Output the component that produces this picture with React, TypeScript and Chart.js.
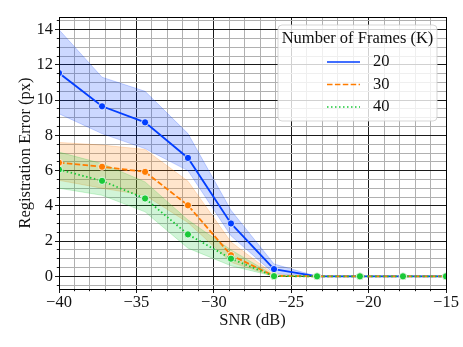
import React, { useEffect, useRef } from "react";
import { Chart, registerables } from "chart.js";

Chart.register(...registerables);

// ---- data ----
const snr = [-40, -37.22, -34.44, -31.67, -28.89, -26.11, -23.33, -20.56, -17.78, -15];
const seriesLabels = ["20", "30", "40"];
const k20Mean = [11.54, 9.65, 8.74, 6.72, 3.0, 0.41, 0.0, 0.0, 0.0, 0.0];
const k20Upper = [14.0, 11.3, 10.5, 8.1, 3.75, 0.7, 0.0, 0.0, 0.0, 0.0];
const k20Lower = [9.23, 8.1, 7.25, 6.0, 2.3, 0.15, 0.0, 0.0, 0.0, 0.0];
const k30Mean = [6.45, 6.22, 5.93, 4.03, 1.2, 0.02, 0.0, 0.0, 0.0, 0.0];
const k30Upper = [7.6, 7.45, 7.2, 5.4, 1.95, 0.1, 0.0, 0.0, 0.0, 0.0];
const k30Lower = [5.45, 5.0, 4.6, 3.05, 0.8, 0.0, 0.0, 0.0, 0.0, 0.0];
const k40Mean = [6.06, 5.42, 4.42, 2.38, 1.0, 0.01, 0.0, 0.0, 0.0, 0.0];
const k40Upper = [7.05, 6.4, 5.36, 3.2, 1.5, 0.05, 0.0, 0.0, 0.0, 0.0];
const k40Lower = [5.0, 4.6, 3.66, 1.6, 0.6, 0.0, 0.0, 0.0, 0.0, 0.0];

const xMajorTicks = [-40, -35, -30, -25, -20, -15];
const xMinorStep = 1;
const yMajorTicks = [0, 2, 4, 6, 8, 10, 12, 14];
const yMinorStep = 0.5;
const xLimits = [-40, -15];
const yLimits = [-0.72, 14.72];

const legendTitle = "Number of Frames (K)";
const xTitle = "SNR (dB)";
const yTitle = "Registration Error (px)";

// ---- styles ----
const FONT = "'Liberation Serif', 'Times New Roman', serif";
const colors = ["#023eff", "#ff7c00", "#1ac938"];
const bandFill = ["rgba(2,62,255,0.2)", "rgba(255,124,0,0.2)", "rgba(26,201,56,0.2)"];
const bandEdge = ["rgba(2,62,255,0.22)", "rgba(255,124,0,0.22)", "rgba(26,201,56,0.22)"];
const dashes: number[][] = [[], [5.5, 2.4], [1.5, 2.5]];

const pts = (ys: number[]) => snr.map((x, i) => ({ x, y: ys[i] }));

const fmt = (v: number) => (v < 0 ? "\u2212" + Math.abs(v) : String(v));

function rangeTicks(lo: number, hi: number, step: number) {
  const out: number[] = [];
  const start = Math.ceil(lo / step);
  const end = Math.floor(hi / step);
  for (let i = start; i <= end; i++) out.push(+(i * step).toFixed(6));
  return out;
}

const alignPx = (p: number) => Math.round(p - 0.5) + 0.5;

const framePlugin = {
  id: "frameAndLegend",
  afterDraw(chart: any) {
    const { ctx, chartArea: a, scales } = chart;
    ctx.save();
    // tick marks
    ctx.strokeStyle = "#000";
    ctx.lineWidth = 0.9;
    scales.x.ticks.forEach((t: any) => {
      const px = alignPx(scales.x.getPixelForValue(t.value));
      const len = xMajorTicks.includes(t.value) ? 4 : 2.2;
      ctx.beginPath();
      ctx.moveTo(px, a.bottom);
      ctx.lineTo(px, a.bottom + len);
      ctx.stroke();
    });
    scales.y.ticks.forEach((t: any) => {
      const py = alignPx(scales.y.getPixelForValue(t.value));
      const len = yMajorTicks.includes(t.value) ? 4 : 2.2;
      ctx.beginPath();
      ctx.moveTo(a.left, py);
      ctx.lineTo(a.left - len, py);
      ctx.stroke();
    });
    // frame
    ctx.lineWidth = 1;
    ctx.strokeStyle = "#000";
    const l = alignPx(a.left), r = alignPx(a.right), tp = alignPx(a.top), b = alignPx(a.bottom);
    ctx.strokeRect(l, tp, r - l, b - tp);

    // legend
    const bx = a.right - 168, by = a.top + 8, bw = 159, bh = 96, rad = 4;
    ctx.beginPath();
    ctx.moveTo(bx + rad, by);
    ctx.lineTo(bx + bw - rad, by);
    ctx.quadraticCurveTo(bx + bw, by, bx + bw, by + rad);
    ctx.lineTo(bx + bw, by + bh - rad);
    ctx.quadraticCurveTo(bx + bw, by + bh, bx + bw - rad, by + bh);
    ctx.lineTo(bx + rad, by + bh);
    ctx.quadraticCurveTo(bx, by + bh, bx, by + bh - rad);
    ctx.lineTo(bx, by + rad);
    ctx.quadraticCurveTo(bx, by, bx + rad, by);
    ctx.closePath();
    ctx.fillStyle = "rgba(255,255,255,0.8)";
    ctx.fill();
    ctx.strokeStyle = "rgba(204,204,204,0.8)";
    ctx.lineWidth = 1;
    ctx.stroke();

    ctx.fillStyle = "#111";
    ctx.font = `16.5px ${FONT}`;
    ctx.textAlign = "center";
    ctx.textBaseline = "middle";
    ctx.fillText(legendTitle, bx + bw / 2, by + 14);
    ctx.textAlign = "left";
    seriesLabels.forEach((lab, i) => {
      const yy = by + 37 + i * 22.5;
      ctx.save();
      ctx.strokeStyle = colors[i];
      ctx.lineWidth = 1.7;
      ctx.setLineDash(dashes[i]);
      ctx.beginPath();
      ctx.moveTo(bx + 49, yy);
      ctx.lineTo(bx + 82, yy);
      ctx.stroke();
      ctx.restore();
      ctx.fillStyle = "#111";
      ctx.fillText(lab, bx + 95, yy);
    });
    ctx.restore();
  },
};

export default function App() {
  const ref = useRef<HTMLCanvasElement>(null);
  useEffect(() => {
    document.body.style.margin = "0";
    const means = [k20Mean, k30Mean, k40Mean];
    const uppers = [k20Upper, k30Upper, k40Upper];
    const lowers = [k20Lower, k30Lower, k40Lower];
    const datasets: any[] = [];
    for (let i = 0; i < 3; i++) {
      datasets.push({
        label: seriesLabels[i] + " lower",
        data: pts(lowers[i]),
        borderColor: bandEdge[i],
        borderWidth: 1,
        pointRadius: 0,
        fill: false,
        order: 8 - i * 2,
      });
      datasets.push({
        label: seriesLabels[i] + " upper",
        data: pts(uppers[i]),
        borderColor: bandEdge[i],
        backgroundColor: bandFill[i],
        borderWidth: 1,
        pointRadius: 0,
        fill: "-1",
        order: 7 - i * 2,
      });
    }
    for (let i = 0; i < 3; i++) {
      datasets.push({
        label: seriesLabels[i],
        data: pts(means[i]),
        borderColor: colors[i],
        borderWidth: 1.8,
        borderDash: dashes[i],
        pointRadius: 3.6,
        pointBackgroundColor: colors[i],
        pointBorderColor: "#ffffff",
        pointBorderWidth: 0.8,
        fill: false,
        order: 2 - i,
      });
    }

    const chart = new Chart(ref.current!, {
      type: "line",
      data: { datasets },
      plugins: [framePlugin],
      options: {
        animation: false,
        responsive: false,
        devicePixelRatio: 1,
        layout: { padding: { top: 17, right: 17, left: 0, bottom: 0 } },
        plugins: { legend: { display: false }, tooltip: { enabled: false } },
        elements: { line: { tension: 0 } },
        scales: {
          x: {
            type: "linear",
            min: xLimits[0],
            max: xLimits[1],
            afterBuildTicks: (s: any) => {
              s.ticks = rangeTicks(xLimits[0], xLimits[1], xMinorStep).map((v) => ({ value: v }));
            },
            afterFit: (s: any) => {
              s.height = 58;
            },
            ticks: {
              autoSkip: false,
              maxRotation: 0,
              padding: 4,
              color: "#111",
              font: { family: FONT, size: 16.5 },
              callback: (v: any) => (xMajorTicks.includes(v) ? fmt(v) : ""),
            },
            grid: {
              drawTicks: false,
              color: (c: any) => (xMajorTicks.includes(c.tick?.value) ? "#1a1a1a" : "#b0b0b0"),
              lineWidth: 1,
            },
            border: { display: false },
            title: {
              display: true,
              text: xTitle,
              color: "#111",
              font: { family: FONT, size: 16.5 },
              padding: { top: 0, bottom: 16 },
            },
          },
          y: {
            type: "linear",
            min: yLimits[0],
            max: yLimits[1],
            afterBuildTicks: (s: any) => {
              s.ticks = rangeTicks(yLimits[0], yLimits[1], yMinorStep).map((v) => ({ value: v }));
            },
            afterFit: (s: any) => {
              s.width = 59;
            },
            ticks: {
              autoSkip: false,
              padding: 6,
              color: "#111",
              font: { family: FONT, size: 16.5 },
              callback: (v: any) => (yMajorTicks.includes(v) ? fmt(v) : ""),
            },
            grid: {
              drawTicks: false,
              color: (c: any) => (yMajorTicks.includes(c.tick?.value) ? "#1a1a1a" : "#b0b0b0"),
              lineWidth: 1,
            },
            border: { display: false },
            title: {
              display: true,
              text: yTitle,
              color: "#111",
              font: { family: FONT, size: 16.5 },
              padding: { top: 16, bottom: 0 },
            },
          },
        },
      } as any,
    });
    return () => chart.destroy();
  }, []);
  return (
    <div style={{ position: "fixed", left: 0, top: 0, width: 463, height: 347 }}>
      <canvas ref={ref} width={463} height={347} style={{ display: "block" }} />
    </div>
  );
}
